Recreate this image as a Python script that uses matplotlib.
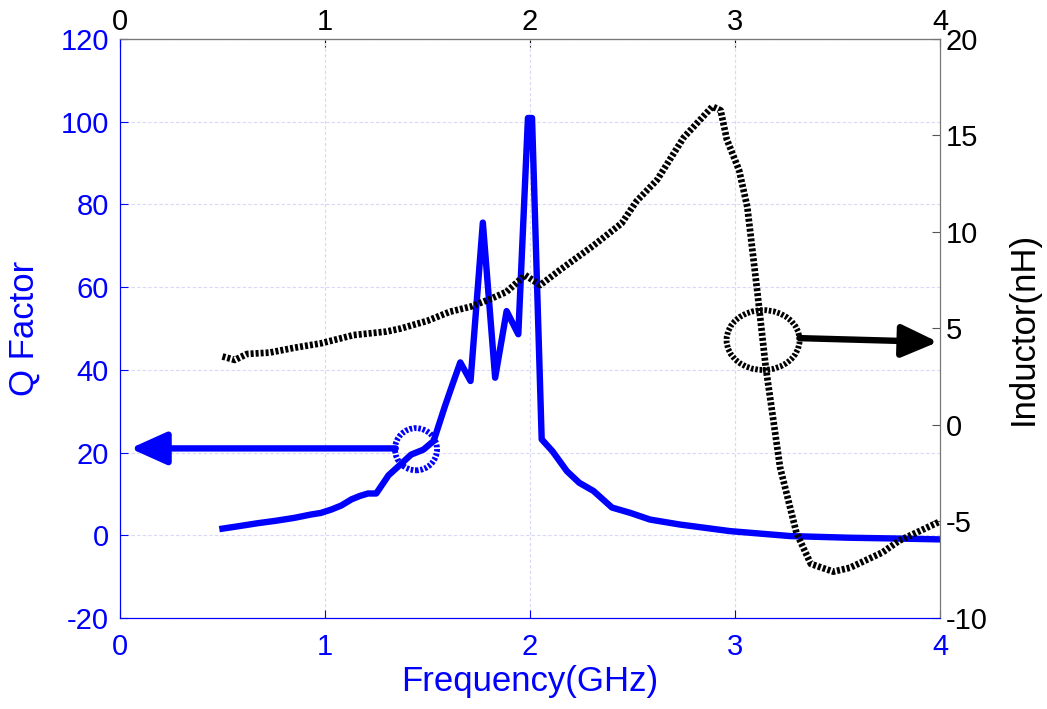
import matplotlib
matplotlib.use("Agg")
import matplotlib.pyplot as plt
from matplotlib.patches import Ellipse

plt.rcParams['font.family'] = ['Liberation Sans', 'DejaVu Sans']
plt.rcParams['axes.unicode_minus'] = False

# Q factor curve (left axis)
freq_q = [0.50, 0.58, 0.67, 0.76, 0.85, 0.93, 0.98, 1.03, 1.08, 1.13, 1.17, 1.21,
          1.25, 1.31, 1.37, 1.42, 1.48, 1.53, 1.585, 1.62, 1.66, 1.71, 1.77, 1.83,
          1.886, 1.943, 1.99, 2.01, 2.057, 2.11, 2.18, 2.24, 2.31, 2.40, 2.49, 2.585,
          2.73, 2.976, 3.27, 3.56, 3.80, 4.0]
q_factor = [1.6, 2.2, 2.9, 3.5, 4.2, 5.0, 5.4, 6.2, 7.2, 8.7, 9.5, 10.1,
            10.1, 14.5, 17.2, 19.5, 20.7, 22.8, 31.2, 36.2, 41.8, 37.3, 75.6, 38.1,
            54.2, 48.6, 100.9, 100.9, 23.2, 20.3, 15.5, 12.7, 10.7, 6.7, 5.4, 3.8,
            2.6, 1.0, -0.2, -0.6, -0.8, -1.0]

# Inductance curve (right axis)
freq_l = [0.50, 0.56, 0.62, 0.73, 0.85, 0.98, 1.14, 1.30, 1.37, 1.50, 1.61, 1.71,
          1.80, 1.886, 1.976, 2.05, 2.146, 2.31, 2.447, 2.52, 2.62, 2.75, 2.89, 2.93,
          2.96, 3.02, 3.06, 3.11, 3.15, 3.22, 3.30, 3.37, 3.48, 3.56, 3.72, 3.80, 4.0]
inductance = [3.55, 3.37, 3.68, 3.75, 4.0, 4.23, 4.66, 4.84, 5.0, 5.4, 5.87, 6.13,
              6.5, 6.9, 7.77, 7.25, 8.03, 9.3, 10.45, 11.6, 12.7, 14.9, 16.5, 16.3,
              14.8, 13.2, 11.3, 6.8, 3.0, -2.2, -5.6, -7.2, -7.6, -7.4, -6.6, -6.0, -5.0]

x_ticks = [0, 1, 2, 3, 4]
q_ticks = [-20, 0, 20, 40, 60, 80, 100, 120]
l_ticks = [-10, -5, 0, 5, 10, 15, 20]

blue = '#0000ff'
fs = 21
label_fs = 25
dotted = (0, (0.45, 0.3))

fig = plt.figure(figsize=(10.47, 7.09), dpi=100)
ax = fig.add_axes([0.1146, 0.1284, 0.7832, 0.8166])
ax2 = ax.twinx()

ax.plot(freq_q, q_factor, color=blue, lw=4.6, solid_joinstyle='round')
ax2.plot(freq_l, inductance, color='black', lw=4.8, linestyle=dotted,
         dash_capstyle='butt')

ax.set_xlim(0, 4)
ax.set_ylim(-20, 120)
ax2.set_ylim(-10, 20)
ax.set_xticks(x_ticks)
ax.set_yticks(q_ticks)
ax2.set_yticks(l_ticks)

ax.grid(True, color='#d8d8f8', linestyle='--', lw=0.8, dashes=(3, 2))

ax.tick_params(axis='both', direction='in', length=6, colors=blue, labelsize=fs, pad=8)
ax.tick_params(axis='x', pad=11)
ax2.tick_params(axis='y', direction='in', length=6, colors='#555555', labelcolor='black',
                labelsize=fs, pad=4)
for s in ['left', 'bottom']:
    ax.spines[s].set_color(blue)
for s in ['top', 'right']:
    ax.spines[s].set_color('#777777')
    ax2.spines[s].set_color('#777777')
ax2.spines['left'].set_color(blue)
ax2.spines['bottom'].set_color(blue)

top = ax.secondary_xaxis('top')
top.set_xticks(x_ticks)
top.tick_params(direction='in', length=6, colors='black', labelsize=fs, pad=2)
top.spines['top'].set_color('#777777')

ax.set_xlabel('Frequency(GHz)', color=blue, fontsize=label_fs, labelpad=3)
ax.set_ylabel('Q Factor', color=blue, fontsize=label_fs, labelpad=14)
ax2.set_ylabel('Inductor(nH)', color='black', fontsize=label_fs, labelpad=14)

# annotations: circles and arrows pointing to the axes
ax.add_patch(Ellipse((1.444, 20.8), 0.205, 10.2, fill=False, edgecolor=blue, lw=4.2,
                     linestyle=dotted, zorder=5))
ax.annotate('', xy=(0.05, 21.0), xytext=(1.345, 21.0),
            arrowprops=dict(arrowstyle='-|>,head_length=1.0,head_width=0.45',
                            mutation_scale=22, color=blue, lw=4.6, shrinkA=0, shrinkB=0))

ax2.add_patch(Ellipse((3.137, 4.4), 0.356, 3.1, fill=False, edgecolor='black', lw=4.2,
                      linestyle=dotted, zorder=5))
ax2.annotate('', xy=(3.99, 4.3), xytext=(3.315, 4.5),
             arrowprops=dict(arrowstyle='-|>,head_length=1.0,head_width=0.45',
                             mutation_scale=22, color='black', lw=4.6, shrinkA=0, shrinkB=0))

fig.savefig('out.png', dpi=100)
